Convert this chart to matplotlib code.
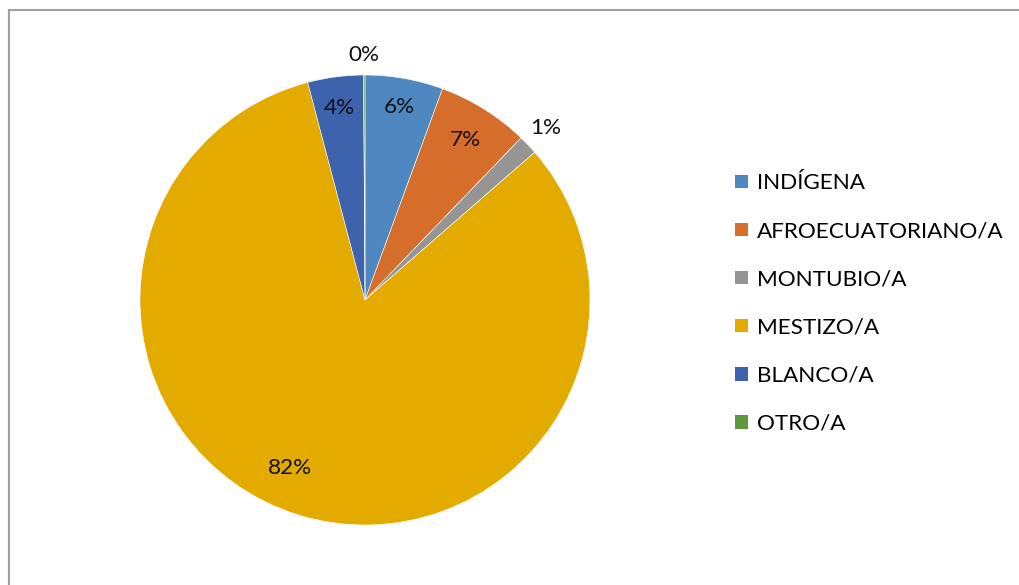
import matplotlib
matplotlib.use("Agg")
import matplotlib.pyplot as plt
from matplotlib.patches import Rectangle
import numpy as np

categories = ["INDÍGENA", "AFROECUATORIANO/A", "MONTUBIO/A", "MESTIZO/A", "BLANCO/A", "OTRO/A"]
values = [5.6, 6.6, 1.4, 82.3, 4.0, 0.1]
pct_labels = ["6%", "7%", "1%", "82%", "4%", "0%"]
colors = ["#4F87C0", "#D56D2B", "#959595", "#E3AA00", "#3E63AD", "#5E9A3B"]
label_radius = [0.87, 0.84, 1.11, 0.82, 0.86, 1.09]
label_angle_shift = [0, 0, 0, -7, 0, 0]

plt.rcParams['font.family'] = ['Lato', 'DejaVu Sans']

W, H = 1019, 585
fig = plt.figure(figsize=(W / 100, H / 100), dpi=100)

# chart frame
fig.patches.append(Rectangle((9 / W, -0.1), 1.2, 1 - 10 / H + 0.1, transform=fig.transFigure,
                             fill=False, edgecolor="#A0A0A0", linewidth=1.5))

cx, cy, R = 365, 300, 225
ax = fig.add_axes([(cx - R) / W, (H - cy - R) / H, 2 * R / W, 2 * R / H])
wedges, _ = ax.pie(values, colors=colors, startangle=90, counterclock=False, radius=1,
                   wedgeprops=dict(edgecolor="white", linewidth=0.4))
ax.set_xlim(-1, 1)
ax.set_ylim(-1, 1)
ax.set_aspect("equal")
ax.axis("off")

for w, lab, r, sh in zip(wedges, pct_labels, label_radius, label_angle_shift):
    ang = np.deg2rad((w.theta1 + w.theta2) / 2 + sh)
    ax.text(r * np.cos(ang), r * np.sin(ang), lab, ha="center", va="center",
            fontsize=16.2, color="#111111")

leg = fig.legend(wedges, categories, loc="upper left",
                 bbox_to_anchor=(724 / W, 1 - 162 / H), frameon=False,
                 fontsize=16.2, handlelength=0.55, handleheight=0.55,
                 handletextpad=0.4, labelspacing=1.25, borderpad=0)
for h in leg.legend_handles:
    h.set_edgecolor("none")

fig.savefig("out.png", dpi=100)
